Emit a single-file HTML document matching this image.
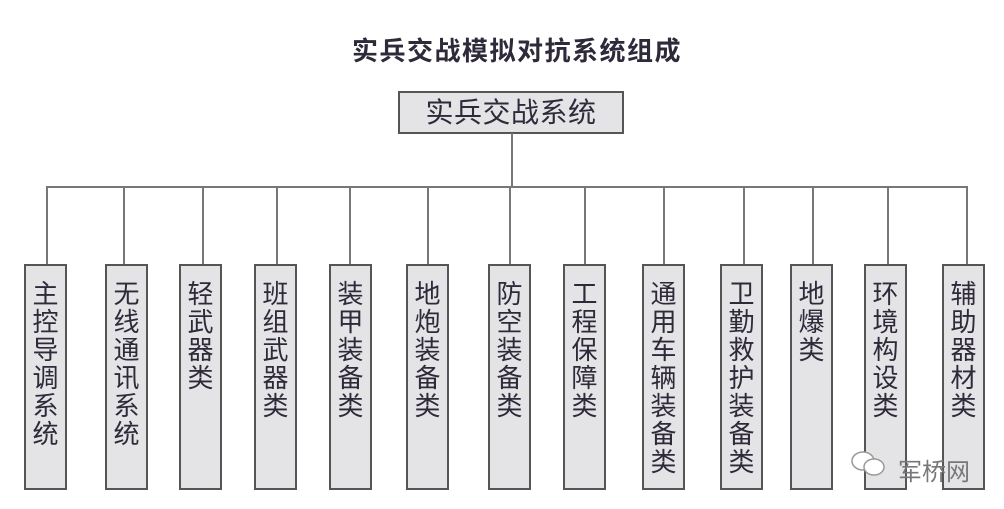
<!DOCTYPE html>
<html><head><meta charset="utf-8"><style>
html,body{margin:0;padding:0;background:#fff;}
body{width:1004px;height:509px;position:relative;overflow:hidden;font-family:"Liberation Sans","Noto Sans CJK SC",sans-serif;color:#2e2a3a;}
.t{position:absolute;left:340px;width:354px;top:34px;text-align:center;font-size:26px;font-weight:bold;letter-spacing:1.5px;line-height:34px;white-space:nowrap;}
.top{position:absolute;left:398px;top:91px;width:222px;height:39px;border:2px solid #555;background:#e4e3e6;box-sizing:content-box;text-align:center;font-size:28px;line-height:40px;letter-spacing:0.5px;}
.l{position:absolute;background:#777;}
.b{position:absolute;top:264px;width:39px;height:222px;border:2px solid #555;background:#e4e3e6;text-align:center;font-size:26px;line-height:28px;padding-top:14px;box-sizing:content-box;height:208px;}
.w{position:absolute;left:850px;top:452px;font-size:24px;color:#777;white-space:nowrap;}
</style></head><body>
<div class="t">实兵交战模拟对抗系统组成</div>
<div class="top">实兵交战系统</div>
<div class="l" style="left:511px;top:133px;width:2px;height:55px"></div>
<div class="l" style="left:46px;top:186px;width:922px;height:2px"></div>

<div class="l" style="left:46px;top:186px;width:2px;height:78px"></div>
<div class="l" style="left:123px;top:186px;width:2px;height:78px"></div>
<div class="l" style="left:202px;top:186px;width:2px;height:78px"></div>
<div class="l" style="left:276px;top:186px;width:2px;height:78px"></div>
<div class="l" style="left:349px;top:186px;width:2px;height:78px"></div>
<div class="l" style="left:427px;top:186px;width:2px;height:78px"></div>
<div class="l" style="left:509px;top:186px;width:2px;height:78px"></div>
<div class="l" style="left:584px;top:186px;width:2px;height:78px"></div>
<div class="l" style="left:663px;top:186px;width:2px;height:78px"></div>
<div class="l" style="left:743px;top:186px;width:2px;height:78px"></div>
<div class="l" style="left:812px;top:186px;width:2px;height:78px"></div>
<div class="l" style="left:887px;top:186px;width:2px;height:78px"></div>
<div class="l" style="left:966px;top:186px;width:2px;height:78px"></div>

<div class="b" style="left:24px">主<br>控<br>导<br>调<br>系<br>统</div>
<div class="b" style="left:105px">无<br>线<br>通<br>讯<br>系<br>统</div>
<div class="b" style="left:179px">轻<br>武<br>器<br>类</div>
<div class="b" style="left:254px">班<br>组<br>武<br>器<br>类</div>
<div class="b" style="left:329px">装<br>甲<br>装<br>备<br>类</div>
<div class="b" style="left:406px">地<br>炮<br>装<br>备<br>类</div>
<div class="b" style="left:488px">防<br>空<br>装<br>备<br>类</div>
<div class="b" style="left:563px">工<br>程<br>保<br>障<br>类</div>
<div class="b" style="left:642px">通<br>用<br>车<br>辆<br>装<br>备<br>类</div>
<div class="b" style="left:720px">卫<br>勤<br>救<br>护<br>装<br>备<br>类</div>
<div class="b" style="left:790px">地<br>爆<br>类</div>
<div class="b" style="left:864px">环<br>境<br>构<br>设<br>类</div>
<div class="b" style="left:942px">辅<br>助<br>器<br>材<br>类</div>

<svg style="position:absolute;left:848px;top:448px" width="44" height="32">
<ellipse cx="15" cy="13" rx="11" ry="9" fill="#fff" stroke="#999" stroke-width="1.5"/>
<ellipse cx="26" cy="19" rx="10" ry="8" fill="#fff" stroke="#999" stroke-width="1.5"/>
</svg>
<div class="w" style="left:898px">军桥网</div>
</body></html>
